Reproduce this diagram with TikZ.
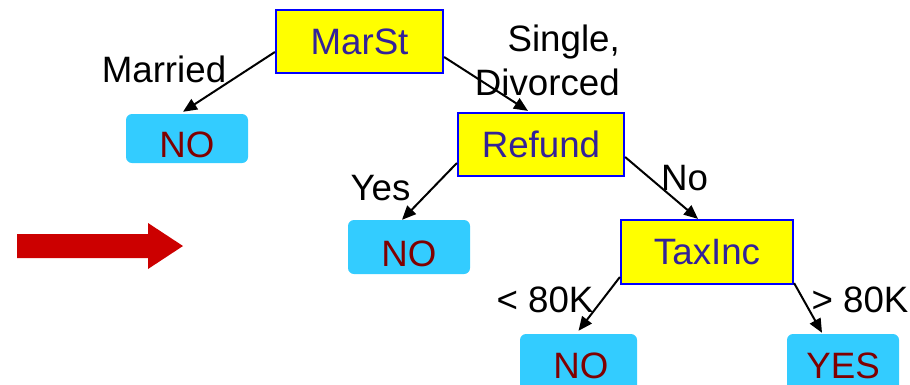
\documentclass[tikz,border=0pt]{standalone}
\usepackage{fontspec}
\setmainfont{Liberation Sans}
\usetikzlibrary{arrows.meta}
\definecolor{decfill}{RGB}{255,255,0}
\definecolor{decedge}{RGB}{0,0,255}
\definecolor{dectext}{RGB}{51,34,153}
\definecolor{leaffill}{RGB}{51,204,255}
\definecolor{leaftext}{RGB}{128,0,0}
\definecolor{pointer}{RGB}{204,0,0}
\begin{document}
\begin{tikzpicture}[x=1pt,y=-1pt,
  every node/.style={font=\fontsize{36.7}{44}\selectfont, inner sep=0pt},
  decision/.style={draw=decedge, line width=2.2pt, fill=decfill, text=dectext},
  leaf/.style={fill=leaffill, text=leaftext, rounded corners=6pt,
    text height=38pt, text depth=0pt},
  edgelabel/.style={anchor=base},
  branch/.style={line width=2pt, -{Triangle[length=14pt,width=12pt]}}]
\useasboundingbox (0,0) rectangle (910,384);
\clip (0,0) rectangle (910,384);

% pointer arrow on the left
\fill[pointer] (17,234) -- (148,234) -- (148,223) -- (183,246)
  -- (148,269) -- (148,258) -- (17,258) -- cycle;

% decision nodes
\node[decision, minimum width=167pt, minimum height=63pt] (marst) at (359.5,41.5) {MarSt};
\node[decision, minimum width=166pt, minimum height=63pt] (refund) at (541,144.5) {Refund};
\node[decision, minimum width=172pt, minimum height=64pt] (taxinc) at (707,252) {TaxInc};

% leaves
\node[leaf, minimum width=122pt, minimum height=49pt] (noA) at (187,138.5) {NO};
\node[leaf, minimum width=122pt, minimum height=54pt] (noB) at (409,247) {NO\hspace{7pt}};
\node[leaf, minimum width=117pt, minimum height=60pt, text height=29pt] (noC) at (578.5,364) {\hspace{5pt}NO};
\node[leaf, minimum width=112pt, minimum height=60pt, text height=29pt] (yes) at (843,364) {YES\hspace{19pt}};

% branches
\draw[branch] ([yshift=-10.5pt]marst.west) -- ([xshift=-4pt,yshift=2pt]noA.north);
\draw[branch] ([yshift=-15.5pt]marst.east) -- ([xshift=-13pt,yshift=1pt]refund.north);
\draw[branch] ([yshift=-18.5pt]refund.west) -- ([xshift=-7pt]noB.north);
\draw[branch] ([yshift=-12.5pt]refund.east) -- ([xshift=-9pt]taxinc.north);
\draw[branch] ([yshift=-25pt]taxinc.west) -- ([yshift=3pt]noC.north);
\draw[branch] ([yshift=2pt]taxinc.south east) -- ([xshift=-21pt,yshift=1pt]yes.north);

% branch labels
\node[edgelabel] (lmarried) at (164,82) {Married};
\node[anchor=base east, align=right] (lsingle) at (620,95) {Single,\\Divorced};
\node[edgelabel] (lyes) at (380.5,200) {Yes};
\node[edgelabel] (lno) at (684.5,190) {No};
\node[edgelabel] (llt) at (545,312) {< 80K};
\node[edgelabel] (lgt) at (860,312) {> 80K};
\end{tikzpicture}
\end{document}
